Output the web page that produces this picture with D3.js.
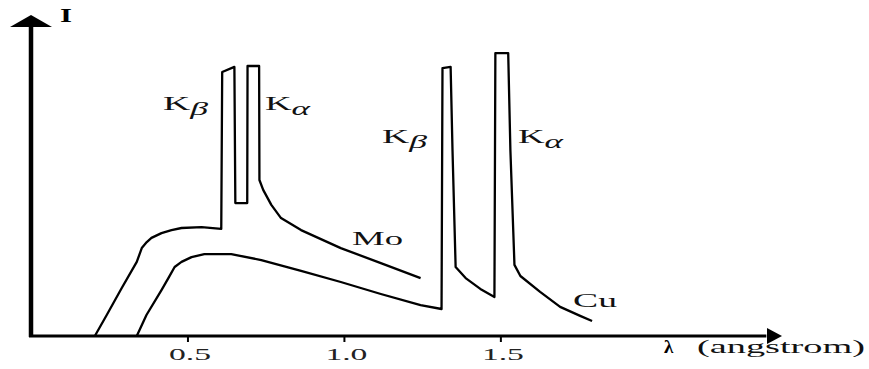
<!DOCTYPE html>
<html>
<head>
<meta charset="utf-8">
<script src="https://cdn.jsdelivr.net/npm/d3@7"></script>
<style>
  body { margin: 0; background: #fff; }
  svg { display: block; }
</style>
</head>
<body>
<script>
// - X-ray spectra of Mo and Cu -

// Data (wavelength in angstrom, intensity in arbitrary units)

var moLambda = [0.204, 0.242, 0.290, 0.338, 0.354, 0.370, 0.385, 0.417, 0.449, 0.481,
                0.545, 0.608, 0.611, 0.650, 0.653, 0.691, 0.692, 0.729, 0.730, 0.742,
                0.768, 0.799, 0.863, 0.990, 1.118, 1.245];
var moI = [0, 7, 16, 24.7, 29.3, 31.3, 32.7, 34.3, 35.3, 36,
           36.3, 35.7, 88, 89.7, 44.3, 44.3, 90, 90, 52, 48.7,
           43.7, 39.3, 35.3, 29.3, 24.3, 19.3];

var cuLambda = [0.338, 0.369, 0.417, 0.439, 0.459, 0.481, 0.513, 0.554, 0.640, 0.736,
                0.863, 0.990, 1.118, 1.245, 1.312, 1.315, 1.341, 1.347, 1.357, 1.389,
                1.436, 1.481, 1.484, 1.525, 1.532, 1.545, 1.564, 1.627, 1.691, 1.755,
                1.793];
var cuI = [0, 7, 15.3, 19.3, 23, 24.7, 26.3, 27.3, 27.3, 25.3,
           21.7, 18, 14, 10.3, 9, 89.3, 89.7, 62, 23, 19.3,
           15.7, 13, 94.3, 94.3, 62, 23.7, 20, 14.7, 9.7, 6.7,
           5];

var tickValues = [0.5, 1.0, 1.5];

// Chart size

const w = 869,
      h = 369;

const x = d3.scaleLinear().domain([0, 2.4]).range([31, 782]);
const y = d3.scaleLinear().domain([0, 100]).range([336, 36]);

const serif = "Liberation Serif, Times New Roman, serif";

// SVG

const svg = d3.select("body")
              .append("svg")
              .attr("width", w)
              .attr("height", h);

// Curves

var line = d3.line()
             .x(d => x(d[0]))
             .y(d => y(d[1]));

[[moLambda, moI], [cuLambda, cuI]].forEach(s => {
  svg.append("path")
     .datum(d3.zip(s[0], s[1]))
     .attr("d", line)
     .attr("fill", "none")
     .attr("stroke", "#000")
     .attr("stroke-width", 2.3)
     .attr("stroke-linejoin", "round");
});

// Axes

svg.append("line")
   .attr("x1", x(0)).attr("x2", x(0))
   .attr("y1", y(0) + 1).attr("y2", y(103))
   .attr("stroke", "#000")
   .attr("stroke-width", 4.5);

svg.append("path")
   .attr("d", "M" + x(0) + "," + y(107) + "L" + (x(0) + 21) + "," + y(103) +
              "L" + (x(0) - 21) + "," + y(103) + "Z")
   .attr("fill", "#000");

svg.append("line")
   .attr("x1", x(0) - 2).attr("x2", x(2.35))
   .attr("y1", y(0)).attr("y2", y(0))
   .attr("stroke", "#000")
   .attr("stroke-width", 3);

svg.append("path")
   .attr("d", "M" + x(2.4) + "," + y(0) + "L" + (x(2.4) - 15) + "," + (y(0) - 8) +
              "L" + (x(2.4) - 15) + "," + (y(0) + 8) + "Z")
   .attr("fill", "#000");

var axis = svg.append("g")
              .attr("transform", "translate(0," + y(0) + ")")
              .call(d3.axisBottom(x)
                      .tickValues(tickValues)
                      .tickFormat(d3.format(".1f"))
                      .tickSize(6)
                      .tickPadding(6));

axis.select(".domain").remove();
axis.selectAll(".tick line").attr("stroke", "#000").attr("stroke-width", 2);
axis.selectAll(".tick text")
    .attr("font-family", serif)
    .attr("font-size", 17)
    .attr("fill", "#222")
    .attr("dx", 2)
    .attr("textLength", 42)
    .attr("lengthAdjust", "spacingAndGlyphs");

// Labels

function label(txt, sub, px, py, len, size) {
  let t = svg.append("text")
             .attr("x", px)
             .attr("y", py)
             .attr("font-family", serif)
             .attr("font-size", size || 19)
             .attr("fill", "#111")
             .attr("textLength", len)
             .attr("lengthAdjust", "spacingAndGlyphs");
  t.append("tspan").text(txt);
  if (sub) {
    t.append("tspan")
     .attr("font-style", "italic")
     .attr("font-size", (size || 19) * 0.95)
     .attr("dy", 5)
     .text(sub);
  }
  return t;
}

label("K", "\u03B2", 163, 110, 45);
label("K", "\u03B1", 265, 110, 45);
label("K", "\u03B2", 382, 143, 45);
label("K", "\u03B1", 518, 143, 45);
label("Mo", null, 352, 245, 51, 18);
label("Cu", null, 573, 307, 44, 18);

svg.append("text")
   .attr("x", 60).attr("y", 22)
   .attr("font-family", serif)
   .attr("font-weight", "bold")
   .attr("font-size", 18)
   .attr("textLength", 12)
   .attr("lengthAdjust", "spacingAndGlyphs")
   .text("I");

svg.append("text")
   .attr("x", 664).attr("y", 353)
   .attr("font-family", serif)
   .attr("font-weight", "bold")
   .attr("font-size", 19)
   .text("\u03BB");

svg.append("text")
   .attr("x", 697).attr("y", 353)
   .attr("font-family", serif)
   .attr("font-size", 19)
   .attr("fill", "#111")
   .attr("textLength", 168)
   .attr("lengthAdjust", "spacingAndGlyphs")
   .text("(angstrom)");
</script>
</body>
</html>
